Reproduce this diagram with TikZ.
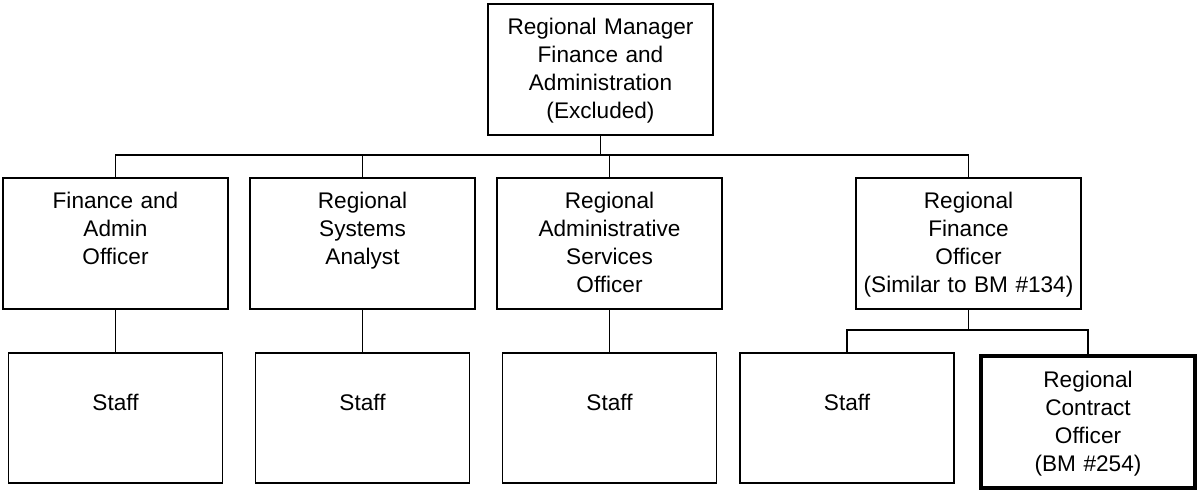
\documentclass[tikz,border=0pt]{standalone}
\usepackage{fontspec}
\setmainfont{Liberation Sans}
\usepackage{tikz}

\begin{document}
\begin{tikzpicture}[x=0.5pt, y=-0.5pt,
  every node/.style={font=\fontsize{11.3}{14}\selectfont},
  post/.style={draw, line width=0.9pt, inner sep=0pt, align=center, anchor=north,
    text width=112.5pt, text height=15.5pt, text depth=50pt},
  staff/.style={post, text width=107pt, text height=29pt, text depth=36pt},
  keypost/.style={post, text width=107pt, line width=2pt, text depth=50.25pt},
  link/.style={draw, line width=0.9pt}]
 \useasboundingbox (0,0) rectangle (1197,492);
 %l1
 \node[post] (l1) at (600.5,3) {Regional Manager\\Finance and\\Administration\\(Excluded)};

 %l2
 \node[post] (l21) at (115.5,177) {Finance and\\Admin\\Officer};
 \node[post] (l22) at (362.5,177) {Regional\\Systems\\Analyst};
 \node[post] (l23) at (609.5,177) {Regional\\Administrative\\Services\\Officer};
 \node[post] (l24) at (968.5,177) {Regional\\Finance\\Officer\\(Similar to BM \#134)};

 %l3
 \node[staff] (l31) at (115.5,352) {Staff};
 \node[staff] (l32) at (362.5,352) {Staff};
 \node[staff] (l33) at (609.5,352) {Staff};
 \node[staff] (l34) at (847,352) {Staff};
 \node[keypost] (l35) at (1088,354) {Regional\\Contract\\Officer\\(BM \#254)};

 %lines
 \coordinate (bus1) at (600.5,155);
 \coordinate (bus2) at (968.5,330);
 \path[link] (l1.south) -- (bus1);
 \path[link] (l21.north) |- (bus1) -| (l24.north);
 \path[link] (l22.north) -- (l22.north |- bus1);
 \path[link] (l23.north) -- (l23.north |- bus1);

 \path[link] (l21.south) -- (l31.north);
 \path[link] (l22.south) -- (l32.north);
 \path[link] (l23.south) -- (l33.north);

 \path[link] (l24.south) -- (bus2);
 \path[link] (l34.north) |- (bus2) -| (l35.north);
\end{tikzpicture}
\end{document}
